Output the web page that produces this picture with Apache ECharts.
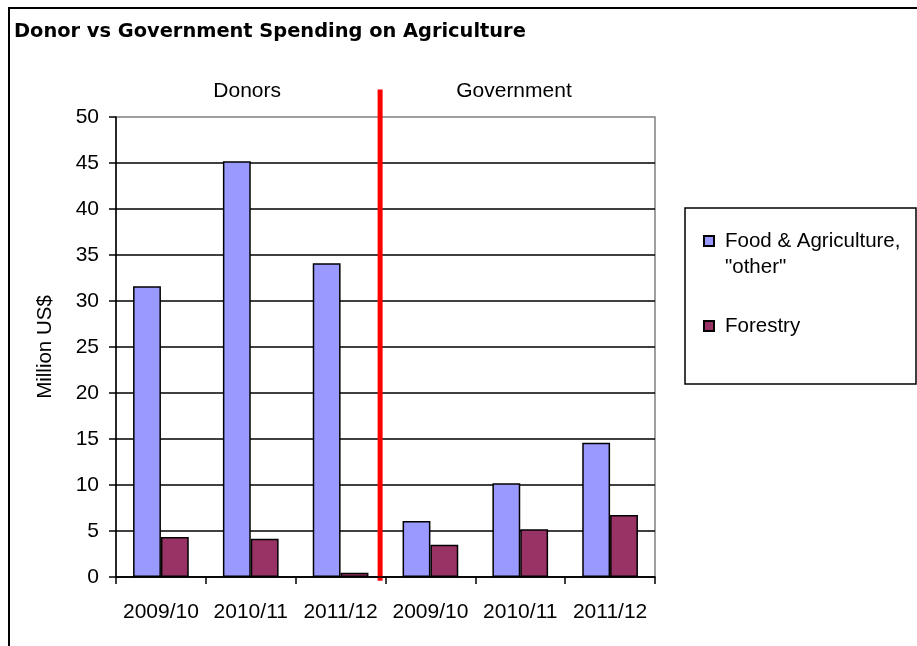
<!DOCTYPE html>
<html>
<head>
<meta charset="utf-8">
<script src="https://cdn.jsdelivr.net/npm/echarts@6/dist/echarts.min.js"></script>
<style>
  html, body { margin: 0; padding: 0; background: #fff; }
  #chart { width: 917px; height: 646px; }
</style>
</head>
<body>
<div id="chart"></div>
<script>
// Spending by source and year, in million US$
const periods = ['2009/10', '2010/11', '2011/12'];
const sources = ['Donors', 'Government'];
const categories = periods.concat(periods);
const foodOther = [31.6, 45.2, 34.1, 6.1, 10.2, 14.6];
const forestry = [4.35, 4.15, 0.45, 3.5, 5.2, 6.75];
const seriesNames = ['Food & Agriculture,\n"other"', 'Forestry'];
const yMin = 0, yMax = 50, yStep = 5;

const FONT = "'Liberation Sans', Arial, sans-serif";
const BLACK = '#000';

const chart = echarts.init(document.getElementById('chart'), null, { renderer: 'canvas' });

chart.setOption({
  animation: false,
  backgroundColor: '#fff',
  title: {
    text: 'Donor vs Government Spending on Agriculture',
    left: 14, top: 20, padding: 0,
    textStyle: { fontFamily: "'DejaVu Sans', sans-serif", fontWeight: 'bold', fontSize: 19.4, lineHeight: 24, color: BLACK }
  },
  legend: {
    orient: 'vertical',
    left: 703, top: 202, padding: 0,
    itemWidth: 10, itemHeight: 10, itemGap: 33,
    icon: 'rect',
    // a leading blank line keeps the marker beside the first line of a wrapped name
    formatter: (name) => (name.indexOf('\n') >= 0 ? '\n' + name : name),
    textStyle: { fontFamily: FONT, fontSize: 20.5, lineHeight: 26, color: BLACK, padding: [0, 0, 0, 6] },
    data: seriesNames
  },
  grid: {
    left: 116, top: 117, right: 262, bottom: 69,
    show: true, borderColor: '#808080', borderWidth: 1.5, backgroundColor: 'transparent'
  },
  xAxis: {
    type: 'category',
    data: categories,
    axisLine: { show: true, lineStyle: { color: BLACK, width: 1.5 } },
    axisTick: { show: true, inside: false, length: 7, lineStyle: { color: BLACK, width: 1.5 } },
    axisLabel: { interval: 0, margin: 25, fontFamily: FONT, fontSize: 21, color: BLACK },
    splitLine: { show: false }
  },
  yAxis: {
    type: 'value',
    min: yMin, max: yMax, interval: yStep,
    name: 'Million US$',
    nameLocation: 'middle', nameRotate: 90, nameGap: 60,
    nameTextStyle: { fontFamily: FONT, fontSize: 20.5, color: BLACK },
    axisLine: { show: true, lineStyle: { color: BLACK, width: 1.5 } },
    axisTick: { show: true, inside: false, length: 7, lineStyle: { color: BLACK, width: 1.5 } },
    axisLabel: { margin: 17, fontFamily: FONT, fontSize: 21, color: BLACK },
    splitLine: { show: true, showMaxLine: false, lineStyle: { color: BLACK, width: 1.5 } }
  },
  series: [
    {
      name: seriesNames[0], type: 'bar', data: foodOther,
      barGap: '0%', barCategoryGap: '38%',
      itemStyle: { color: '#9999FF', borderColor: BLACK, borderWidth: 1.5 }
    },
    {
      name: seriesNames[1], type: 'bar', data: forestry,
      barGap: '0%', barCategoryGap: '38%',
      itemStyle: { color: '#993366', borderColor: BLACK, borderWidth: 1.5 }
    }
  ]
});

// Divider between the donor and government years, plus the group headings,
// placed in category units along x and value units along y.
function addAnnotations() {
  const c0 = chart.convertToPixel({ xAxisIndex: 0 }, 0);
  const c1 = chart.convertToPixel({ xAxisIndex: 0 }, 1);
  const band = c1 - c0;
  const xAt = (c) => c0 - band / 2 + c * band;
  const yAt = (v) => chart.convertToPixel({ yAxisIndex: 0 }, v);

  const dividerAt = 2.94;
  const headingAt = [1.46, 4.43];
  const headingY = yAt(52.8);

  chart.setOption({
    graphic: [
      {
        type: 'rect', silent: true,
        shape: { x: 9, y: 8, width: 1000, height: 1000 },
        style: { fill: 'none', stroke: BLACK, lineWidth: 2 }
      },
      {
        type: 'rect', silent: true,
        shape: { x: 685, y: 208, width: 231, height: 176 },
        style: { fill: 'none', stroke: BLACK, lineWidth: 1.5 }
      },
      {
        type: 'line', silent: true,
        shape: { x1: xAt(dividerAt), y1: yAt(53), x2: xAt(dividerAt), y2: yAt(-0.4) },
        style: { stroke: '#FF0000', lineWidth: 5 }
      }
    ].concat(sources.map((s, i) => ({
      type: 'text', silent: true,
      x: xAt(headingAt[i]), y: headingY,
      style: { text: s, font: '21px ' + FONT, fill: BLACK, align: 'center', verticalAlign: 'middle' }
    })))
  });
}
addAnnotations();
</script>
</body>
</html>
